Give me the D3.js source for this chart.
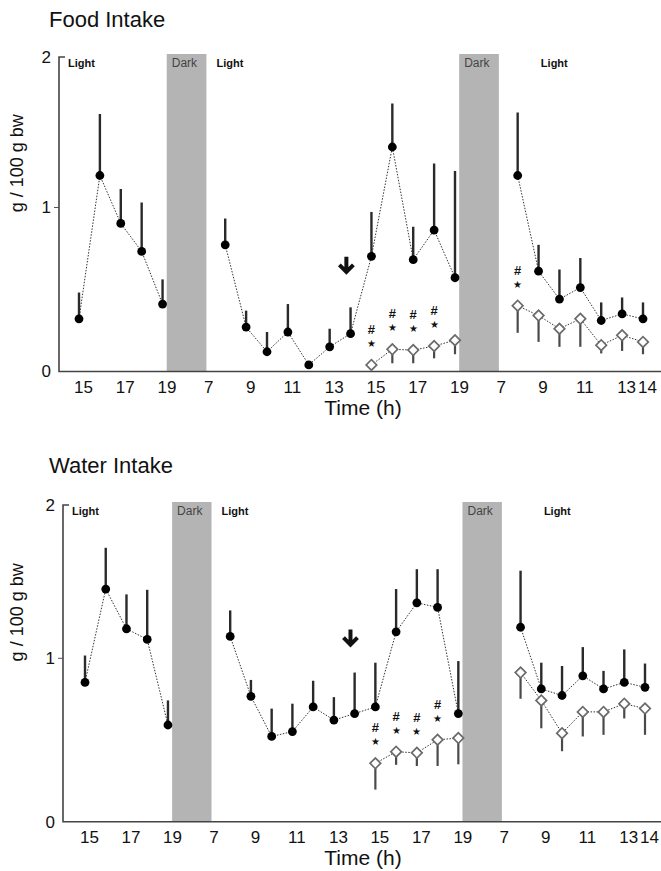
<!DOCTYPE html>
<html>
<head>
<meta charset="utf-8">
<script src="https://cdn.jsdelivr.net/npm/d3@7"></script>
<style>
body { margin: 0; background: #fff; }
svg text { font-family: "Liberation Sans", Arial, sans-serif; fill: #111; }
</style>
</head>
<body>
<svg width="661" height="871"></svg>
<script>
//DATA
// position on the time axis, the two nights are squeezed between 19 and 7
const ctrlSlots = [0,1,2,3,4, 7,8,9,10,11,12,13,14,15,16,17,18, 21,22,23,24,25,26,27];
const treatSlots = [14,15,16,17,18, 21,22,23,24,25,26,27];
const tickSlots = [0,2,4,6,8,10,12,14,16,18,20,22,24,26,27];
const tickLabels = ['15','17','19','7','9','11','13','15','17','19','7','9','11','13','14'];
const darkBands = [[4.2, 6.1], [18.2, 20.1]];

// food intake (g / 100 g bw), mean and SEM
const foodCtrl    = [0.32,1.21,0.90,0.73,0.41, 0.77,0.27,0.12,0.24,0.04,0.15,0.23,0.70,1.40,0.68,0.86,0.57, 1.21,0.61,0.44,0.51,0.31,0.35,0.32];
const foodCtrlSem = [0.16,0.41,0.22,0.30,0.15, 0.16,0.10,0.12,0.17,0.00,0.11,0.16,0.27,0.29,0.20,0.43,0.67, 0.42,0.16,0.18,0.18,0.11,0.10,0.10];
const foodTreat    = [0.04,0.135,0.13,0.155,0.19, 0.40,0.34,0.26,0.32,0.16,0.22,0.18];
const foodTreatSem = [0.00,0.085,0.08,0.075,0.085, 0.165,0.16,0.11,0.17,0.05,0.095,0.075];
const foodSig = [14,15,16,17,21];

// water intake (g / 100 g bw), mean and SEM
const waterCtrl    = [0.85,1.45,1.19,1.12,0.59, 1.14,0.765,0.52,0.55,0.70,0.62,0.66,0.70,1.17,1.36,1.33,0.66, 1.20,0.81,0.77,0.89,0.81,0.85,0.82];
const waterCtrlSem = [0.165,0.27,0.225,0.325,0.15, 0.17,0.10,0.17,0.17,0.16,0.14,0.25,0.27,0.28,0.22,0.25,0.32, 0.37,0.16,0.18,0.18,0.11,0.205,0.145];
const waterTreat    = [0.356,0.427,0.42,0.50,0.51, 0.91,0.74,0.54,0.67,0.67,0.72,0.69];
const waterTreatSem = [0.16,0.08,0.08,0.16,0.16, 0.16,0.17,0.11,0.15,0.14,0.09,0.16];
const waterSig = [14,15,16,17];

const arrowSlot = 12.8;

//LAYOUT
const svg = d3.select('svg');

const panels = [
  {title: 'Food Intake', titleY: 27, axisX: 59, xRange: [79, 643], yRange: [371.5, 207, 57],
   ctrl: foodCtrl, ctrlSem: foodCtrlSem, treat: foodTreat, treatSem: foodTreatSem, sig: foodSig, arrowVal: 0.6},
  {title: 'Water Intake', titleY: 473, axisX: 63, xRange: [85, 645], yRange: [821.7, 657.8, 505],
   ctrl: waterCtrl, ctrlSem: waterCtrlSem, treat: waterTreat, treatSem: waterTreatSem, sig: waterSig, arrowVal: 1.08}
];

panels.forEach(drawPanel);

//----FUNCTIONS-----

function segments(points){
    let segs = [], cur = [];
    points.forEach((p, i) => {
        if (i > 0 && p.slot - points[i-1].slot > 1) { segs.push(cur); cur = []; }
        cur.push(p);
    });
    segs.push(cur);
    return segs;
}

function drawPanel(p){
    const g = svg.append('g');
    const x = d3.scaleLinear().domain([0, 27]).range(p.xRange);
    const y = d3.scaleLinear().domain([0, 1, 2]).range(p.yRange);
    const y0 = y(0), y2 = y(2);

    //TITLE
    g.append('text')
        .attr('x', 49).attr('y', p.titleY)
        .style('font-size', '22px')
        .text(p.title);

    //DARK PERIODS
    darkBands.forEach(b => {
        g.append('rect')
            .attr('x', x(b[0])).attr('y', y2 - 3)
            .attr('width', x(b[1]) - x(b[0]))
            .attr('height', y0 - y2 + 3)
            .attr('fill', '#b4b4b4');
        g.append('text')
            .attr('x', x(b[0]) + 5).attr('y', y2 + 10)
            .style('font-size', '12px').style('fill', '#444')
            .text('Dark');
    });
    const lightX = [p.axisX + 9, x(darkBands[0][1]) + 10, x(darkBands[1][1]) + 42];
    lightX.forEach(lx => {
        g.append('text')
            .attr('x', lx).attr('y', y2 + 10)
            .style('font-size', '11px').style('font-weight', 'bold')
            .text('Light');
    });

    //AXES
    let xAxis = g.append('g')
        .attr('transform', `translate(0,${y0})`)
        .call(d3.axisBottom(x).tickValues(tickSlots)
            .tickFormat((d, i) => tickLabels[i]).tickSize(0).tickPadding(9));
    xAxis.select('.domain').remove();
    xAxis.selectAll('text')
        .attr('dx', 4)
        .style('font-size', '17px');

    let yAxis = g.append('g')
        .attr('transform', `translate(${p.axisX},0)`)
        .call(d3.axisLeft(y).tickValues([0, 1, 2]).tickFormat(d3.format('d')).tickSize(5).tickPadding(3));
    yAxis.select('.domain').remove();
    yAxis.selectAll('.tick line')
        .attr('stroke', '#555')
        .attr('x2', d => d === 1 ? -5 : 0);
    yAxis.selectAll('text').style('font-size', '17px');

    g.append('path')
        .attr('d', `M${p.axisX + 6},${y2} H${p.axisX} V${y0} H661`)
        .attr('fill', 'none')
        .attr('stroke', '#444')
        .attr('stroke-width', 1.6);

    g.append('text')
        .attr('transform', `translate(23,${(y0 + y2) / 2 - 51}) rotate(-90)`)
        .attr('text-anchor', 'middle')
        .style('font-size', '18px')
        .text('g / 100 g bw');

    g.append('text')
        .attr('x', 363).attr('y', y0 + 43)
        .attr('text-anchor', 'middle')
        .style('font-size', '21px')
        .text('Time (h)');

    //DATA
    const ctrl = ctrlSlots.map((s, i) => ({slot: s, v: p.ctrl[i], e: p.ctrlSem[i]}));
    const treat = treatSlots.map((s, i) => ({slot: s, v: p.treat[i], e: p.treatSem[i]}));

    const line = d3.line().x(d => x(d.slot)).y(d => y(d.v));

    segments(ctrl).concat(segments(treat)).forEach(seg => {
        g.append('path')
            .datum(seg)
            .attr('d', line)
            .attr('fill', 'none')
            .attr('stroke', '#333')
            .attr('stroke-width', 1)
            .attr('stroke-dasharray', '1.5,1.5');
    });

    // error bars: controls upward, treated downward
    g.selectAll('line.errC')
        .data(ctrl.filter(d => d.e > 0))
        .enter().append('line')
        .attr('class', 'errC')
        .attr('x1', d => x(d.slot)).attr('x2', d => x(d.slot))
        .attr('y1', d => y(d.v)).attr('y2', d => y(d.v + d.e))
        .attr('stroke', '#2a2a2a').attr('stroke-width', 2.4);

    g.selectAll('line.errT')
        .data(treat.filter(d => d.e > 0))
        .enter().append('line')
        .attr('class', 'errT')
        .attr('x1', d => x(d.slot)).attr('x2', d => x(d.slot))
        .attr('y1', d => y(d.v)).attr('y2', d => y(d.v - d.e))
        .attr('stroke', '#4a4a4a').attr('stroke-width', 2.2);

    g.selectAll('circle.ctrl')
        .data(ctrl)
        .enter().append('circle')
        .attr('class', 'ctrl')
        .attr('cx', d => x(d.slot)).attr('cy', d => y(d.v))
        .attr('r', 4.4)
        .attr('fill', '#000');

    g.selectAll('path.treat')
        .data(treat)
        .enter().append('path')
        .attr('class', 'treat')
        .attr('d', d3.symbol(d3.symbolSquare, 56))
        .attr('transform', d => `translate(${x(d.slot)},${y(d.v)}) rotate(45)`)
        .attr('fill', '#fff')
        .attr('stroke', '#6a6a6a')
        .attr('stroke-width', 1.7);

    //SIGNIFICANCE MARKS
    const sigPts = treat.filter(d => p.sig.includes(d.slot));
    g.selectAll('text.star')
        .data(sigPts)
        .enter().append('text')
        .attr('class', 'star')
        .attr('x', d => x(d.slot)).attr('y', d => y(d.v) - 18)
        .attr('text-anchor', 'middle')
        .style('font-size', '10px')
        .text('★');
    g.selectAll('text.hash')
        .data(sigPts)
        .enter().append('text')
        .attr('class', 'hash')
        .attr('x', d => x(d.slot)).attr('y', d => y(d.v) - 31)
        .attr('text-anchor', 'middle')
        .style('font-size', '13px')
        .style('font-weight', 'bold')
        .text('#');

    //ARROW
    const ax = x(arrowSlot), ay = y(p.arrowVal);
    g.append('path')
        .attr('d', `M${ax},${ay - 16} V${ay - 2} M${ax - 7},${ay - 8} L${ax},${ay - 1} L${ax + 7},${ay - 8}`)
        .attr('fill', 'none')
        .attr('stroke', '#111')
        .attr('stroke-width', 4);
}
</script>
</body>
</html>
